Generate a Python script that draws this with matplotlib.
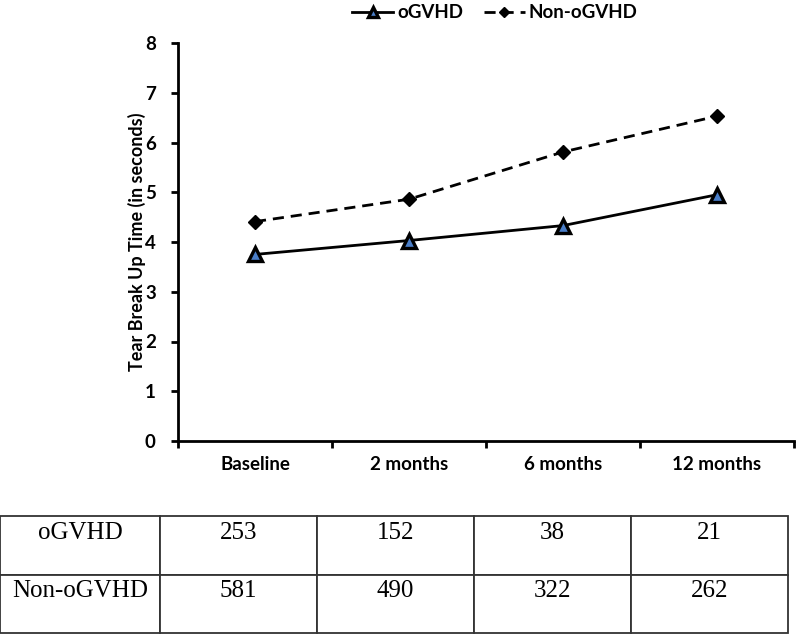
import matplotlib
matplotlib.use("Agg")
import matplotlib.pyplot as plt
from matplotlib.font_manager import FontProperties

# data
categories = ["Baseline", "2 months", "6 months", "12 months"]
ogvhd = [3.75, 4.03, 4.33, 4.95]
non_ogvhd = [4.41, 4.86, 5.81, 6.53]
row_labels = ["oGVHD", "Non-oGVHD"]
counts_ogvhd = [253, 152, 38, 21]
counts_non = [581, 490, 322, 262]

W, H = 796, 634
fig = plt.figure(figsize=(W / 100, H / 100), dpi=100)

lab_font = dict(family="Lato", weight="bold", size=13.5)

ax = fig.add_axes([178 / W, 1 - 441 / H, (794 - 178) / W, (441 - 43) / H])
x = list(range(len(categories)))
ax.plot(x, ogvhd, color="black", lw=2, marker="^", markersize=9.5,
        markerfacecolor="#4A7EC8", markeredgecolor="black", markeredgewidth=2.4,
        label="oGVHD")
ax.plot(x, non_ogvhd, color="black", lw=2, ls=(0, (4, 2.5)), marker="D",
        markersize=7, markerfacecolor="black", markeredgecolor="black",
        label="Non-oGVHD")

ax.set_xlim(-0.5, 3.5)
ax.set_ylim(0, 8)
ax.set_yticks(range(0, 9))
ax.set_xticks([i - 0.5 for i in range(5)])
ax.set_xticklabels([])
ax.set_xticks(x, minor=True)
ax.set_xticklabels(categories, minor=True, fontdict=lab_font)
ax.tick_params(axis="x", which="minor", length=0, pad=11)
ax.tick_params(axis="x", which="major", direction="out", length=5, width=2)
ax.tick_params(axis="y", direction="out", length=5, width=2, pad=11)
for t in ax.get_yticklabels():
    t.set_fontproperties(FontProperties(**lab_font))
for s in ["top", "right"]:
    ax.spines[s].set_visible(False)
for s in ["left", "bottom"]:
    ax.spines[s].set_linewidth(2)
ax.set_ylabel("Tear Break Up Time (in seconds)",
              fontdict=dict(family="Lato", weight="bold", size=13), labelpad=-1)

leg = ax.legend(loc="center", bbox_to_anchor=(495 / W, 1 - 13 / H), bbox_transform=fig.transFigure,
                ncol=2, frameon=False, handlelength=2.2, columnspacing=1.1, handletextpad=0.2,
                markerscale=0.75, prop=dict(family="Lato", weight="bold", size=13.5))

# table
tax = fig.add_axes([0, 1 - 633 / H, 788 / W, (633 - 516) / H])
tax.axis("off")
cell_text = [[lbl + "\n"] + [str(v) + "\n" for v in vals]
             for lbl, vals in zip(row_labels, [counts_ogvhd, counts_non])]
col_w = [160, 157, 157, 157, 157]
tot = sum(col_w)
tbl = tax.table(cellText=cell_text, cellLoc="center", colWidths=[c / tot for c in col_w],
                bbox=[0, 0, 1, 1])
tbl.auto_set_font_size(False)
for (r, c), cell in tbl.get_celld().items():
    cell.set_linewidth(1.3)
    cell.set_edgecolor("#333333")
    cell.get_text().set_fontfamily("Liberation Serif")
    cell.get_text().set_fontsize(18)

fig.savefig("out.png", dpi=100)
